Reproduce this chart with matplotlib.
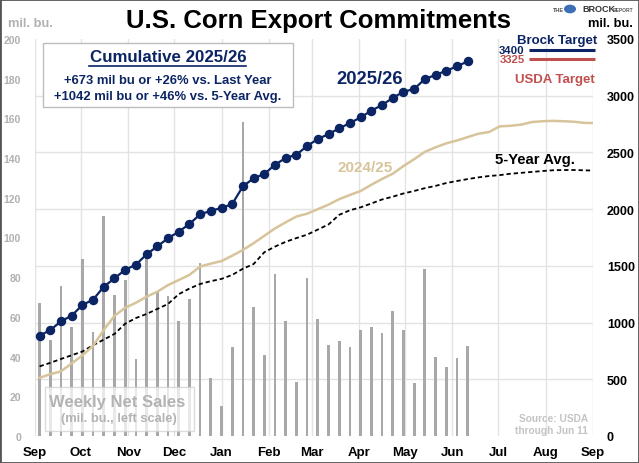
import numpy as np
import matplotlib
matplotlib.use("Agg")
import matplotlib.pyplot as plt
from matplotlib.patches import Rectangle, Circle

plt.rcParams['font.family'] = ['Liberation Sans', 'DejaVu Sans']
plt.rcParams['font.weight'] = 'bold'

# ---------------- data ----------------
start_week = np.datetime64('2025-09-04')
weekly_sales = [67, 48.5, 75.5, 55, 89, 52.5, 111, 71, 78.5, 39, 92, 72.5, 70.5, 58, 69, 87,
                29, 15, 45, 158, 65, 41, 81.5, 58, 27, 79.5, 59, 46, 48, 45, 53.5, 55, 52, 63,
                53.5, 26.5, 84, 40, 35, 39.5, 45.5]
cum_2025_26 = [884, 934, 1011, 1061, 1155, 1202, 1316, 1390, 1466, 1510, 1602, 1672, 1743, 1801,
               1869, 1954, 1986, 2010, 2045, 2201, 2272, 2310, 2392, 2451, 2480, 2557, 2618,
               2662, 2712, 2759, 2809, 2868, 2918, 2980, 3035, 3059, 3147, 3183, 3220, 3259, 3303]
cum_2024_25 = [513, 545, 570, 640, 710, 795, 935, 1060, 1130, 1175, 1228, 1272, 1330, 1375, 1420,
               1494, 1520, 1542, 1590, 1640, 1700, 1765, 1830, 1884, 1935, 1960, 2000, 2040, 2088,
               2125, 2160, 2215, 2266, 2312, 2380, 2440, 2505, 2545, 2580, 2605, 2635, 2665, 2680,
               2730, 2735, 2745, 2768, 2775, 2778, 2775, 2770, 2760, 2759]
cum_5yr_avg = [614, 645, 679, 712, 745, 800, 850, 900, 990, 1040, 1076, 1120, 1164, 1250, 1300,
               1340, 1365, 1385, 1420, 1475, 1516, 1620, 1670, 1712, 1745, 1775, 1820, 1865, 1950,
               1990, 2016, 2050, 2085, 2110, 2138, 2160, 2185, 2205, 2230, 2248, 2265, 2280, 2292,
               2300, 2312, 2320, 2328, 2336, 2343, 2345, 2345, 2342, 2339]
month_labels = ['Sep', 'Oct', 'Nov', 'Dec', 'Jan', 'Feb', 'Mar', 'Apr', 'May', 'Jun', 'Jul', 'Aug', 'Sep']
brock_target = 3400
usda_target = 3325

# ---------------- colours ----------------
NAVY = '#0b2463'
TAN = '#d8c49b'
RED = '#c0504d'
BARC = '#a8a8a8'
GRID = '#e3e3e3'

W, H = 639, 464
fig = plt.figure(figsize=(W / 100, H / 100), dpi=100)

def fx(px):
    return px / W

def fy(py):
    return 1 - py / H

L, R, T, B = 35, 593, 40, 437
ax = fig.add_axes([fx(L), fy(B), (R - L) / W, (B - T) / H])
ax2 = ax.twinx()

weeks_now = start_week + 7 * np.arange(len(weekly_sales))
weeks_full = start_week + 7 * np.arange(len(cum_2024_25))
weeks_now_d = weeks_now.astype('datetime64[D]').astype(object)
weeks_full_d = weeks_full.astype('datetime64[D]').astype(object)

month_starts = np.arange(np.datetime64('2025-09'), np.datetime64('2026-10'), np.timedelta64(1, 'M'))
month_starts_d = month_starts.astype('datetime64[D]').astype(object)

# bars
ax.bar(weeks_now_d, weekly_sales, width=1.8, color=BARC, zorder=2)
ax.set_ylim(0, 200)
ax.set_xlim(month_starts_d[0], month_starts_d[-1])
ax.set_yticks(np.arange(0, 201, 20))
ax.set_xticks(month_starts_d)
ax.set_xticklabels(month_labels)
ax.set_yticks(np.linspace(0, 200, 8), minor=True)
ax.grid(True, which='minor', axis='y', color=GRID, lw=1, zorder=0)
ax.grid(True, which='major', axis='x', color=GRID, lw=1, zorder=0)
ax.grid(False, which='major', axis='y')
ax.tick_params(axis='y', which='both', length=0, colors='#b0b0b0', labelsize=7.5, pad=10)
ax.tick_params(axis='x', length=0, labelsize=9.5, colors='black', pad=7)
for s in ax.spines.values():
    s.set_visible(False)

# lines on right scale
ax2.set_ylim(0, 3500)
ax2.set_yticks(np.arange(0, 3501, 500))
ax2.tick_params(axis='y', length=0, labelsize=9, colors='black', pad=10)
for s in ax2.spines.values():
    s.set_visible(False)
ax2.plot(weeks_full_d, cum_5yr_avg, color='black', lw=1.3, ls=(0, (2.4, 1.6)), zorder=3)
ax2.plot(weeks_full_d, cum_2024_25, color=TAN, lw=1.8, zorder=3)
ax2.plot(weeks_now_d, cum_2025_26, color=NAVY, lw=1.6, marker='o', ms=5.8, zorder=4)
ax2.set_xlim(month_starts_d[0], month_starts_d[-1])

# target lines
ax2.plot([0.886, 1.004], [brock_target, brock_target], transform=ax2.get_yaxis_transform(),
         color=NAVY, lw=2.2, clip_on=False, solid_capstyle='butt')
ax2.plot([0.886, 1.004], [usda_target, usda_target], transform=ax2.get_yaxis_transform(),
         color=RED, lw=2.2, clip_on=False, solid_capstyle='butt')
fig.text(fx(512), fy(51.5), str(brock_target), color=NAVY, fontsize=8.2, ha='center', va='center')
fig.text(fx(512), fy(60), str(usda_target), color=RED, fontsize=8.2, ha='center', va='center')
fig.text(fx(557), fy(41), 'Brock Target', color=NAVY, fontsize=9.5, ha='center', va='center')
fig.text(fx(555), fy(79.5), 'USDA Target', color=RED, fontsize=9.5, ha='center', va='center')

# series labels
fig.text(fx(370), fy(79), '2025/26', color=NAVY, fontsize=13.2, ha='center', va='center')
fig.text(fx(365.5), fy(168), '2024/25', color=TAN, fontsize=11, ha='center', va='center')
fig.text(fx(535), fy(160), '5-Year Avg.', color='black', fontsize=10.7, ha='center', va='center')

# title and axis units
fig.text(fx(319), fy(21), 'U.S. Corn Export Commitments', fontsize=18.5, ha='center', va='center', color='black')
fig.text(fx(30), fy(24), 'mil. bu.', fontsize=9.3, ha='center', va='center', color='#b0b0b0')
fig.text(fx(610), fy(24), 'mil. bu.', fontsize=9.3, ha='center', va='center', color='black')

# cumulative box
fig.patches.append(Rectangle((fx(43), fy(108)), (293 - 43) / W, (108 - 44) / H, transform=fig.transFigure,
                             facecolor='white', edgecolor='#bdbdbd', lw=1, zorder=5))
fig.text(fx(168), fy(58), 'Cumulative 2025/26', color=NAVY, fontsize=12.2, ha='center', va='center', zorder=6)
fig.lines.append(plt.Line2D([fx(89), fx(246)], [fy(67), fy(67)], transform=fig.transFigure, color=NAVY, lw=1.2, zorder=6))
fig.text(fx(167.5), fy(81), '+673 mil bu or +26% vs. Last Year', color=NAVY, fontsize=9.4, ha='center', va='center', zorder=6)
fig.text(fx(167.5), fy(97), '+1042 mil bu or +46% vs. 5-Year Avg.', color=NAVY, fontsize=9.4, ha='center', va='center', zorder=6)

# weekly sales box
fig.patches.append(Rectangle((fx(45), fy(432)), (194 - 45) / W, (432 - 388) / H, transform=fig.transFigure,
                             facecolor='white', alpha=0.75, edgecolor='#cfcfcf', lw=1, zorder=5))
fig.text(fx(117.5), fy(402), 'Weekly Net Sales', color='#b3b3b3', fontsize=12, ha='center', va='center', zorder=6)
fig.text(fx(119), fy(419), '(mil. bu., left scale)', color='#b3b3b3', fontsize=9.3, ha='center', va='center', zorder=6)

# source
fig.text(fx(588), fy(419), 'Source: USDA', color='#c4c4c4', fontsize=7.3, ha='right', va='center')
fig.text(fx(588), fy(431), 'through Jun 11', color='#c4c4c4', fontsize=7.3, ha='right', va='center')

# logo
fig.text(fx(553), fy(10), 'THE', color='#555555', fontsize=4, ha='left', va='center')
fig.patches.append(Circle((fx(570), fy(10)), 6 / W, transform=fig.transFigure, facecolor='#3d6fb6', edgecolor='none'))
fig.text(fx(582), fy(10), 'BROCK', color='#333333', fontsize=6.5, ha='left', va='center')
fig.text(fx(613), fy(10), 'REPORT', color='#555555', fontsize=3.5, ha='left', va='center')

# figure border
fig.patches.append(Rectangle((0, 0), 1, 1, transform=fig.transFigure, facecolor='none', edgecolor='#555555', lw=2))

fig.savefig('out.png', dpi=100)
